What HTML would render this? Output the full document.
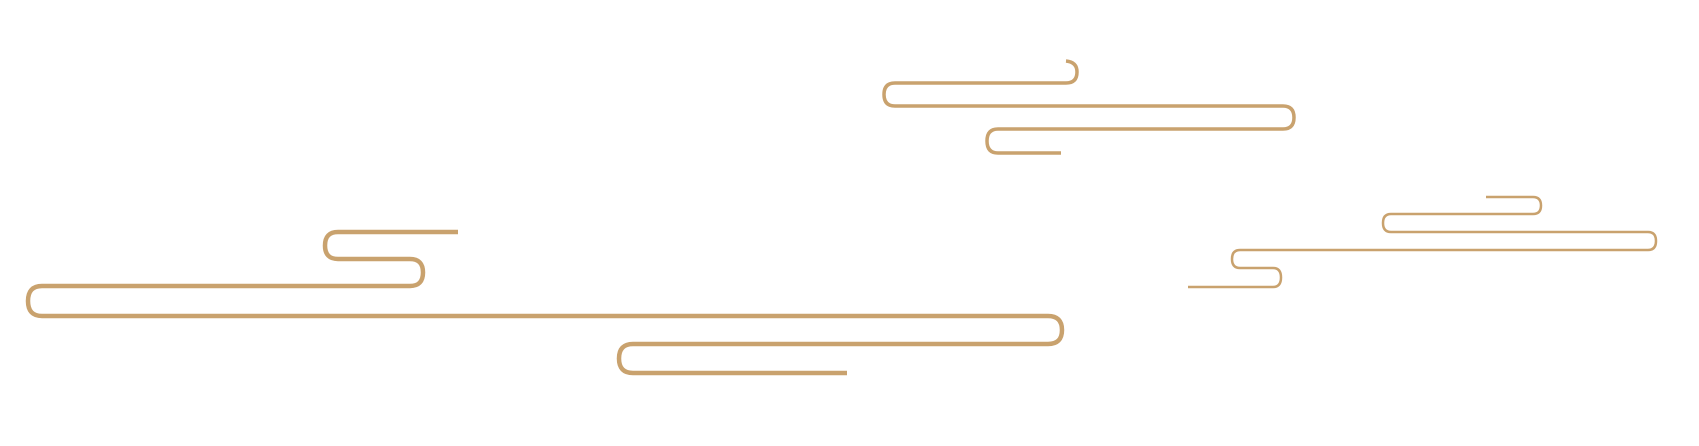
<!DOCTYPE html>
<html><head><meta charset="utf-8"><style>
html,body{margin:0;padding:0;background:#fff;width:1699px;height:446px;overflow:hidden}
svg{display:block}
</style></head><body>
<svg width="1699" height="446" viewBox="0 0 1699 446" fill="none" stroke="#c9a26e" stroke-linejoin="round">
<path stroke-width="4.5" d="M458 232 L338 232 Q325 232 325 245.5 Q325 259 338 259 L410 259 Q423 259 423 272.5 Q423 286 410 286 L42 286 Q28 286 28 301 Q28 316 42 316 L1048 316 Q1062 316 1062 330 Q1062 344 1048 344 L633 344 Q619 344 619 358.5 Q619 373 633 373 L847 373"/>
<path stroke-width="3.5" d="M1066 61 Q1077 62 1077 72 Q1077 83 1066 83 L895 83 Q884 83 884 94.5 Q884 106 895 106 L1283 106 Q1294 106 1294 117.5 Q1294 129 1283 129 L998 129 Q987 129 987 141 Q987 153 998 153 L1061 153"/>
<path stroke-width="2.5" d="M1486 197 L1533 197 Q1541 197 1541 205.5 Q1541 214 1533 214 L1391 214 Q1383 214 1383 223 Q1383 232 1391 232 L1648 232 Q1656 232 1656 241 Q1656 250 1648 250 L1240 250 Q1232 250 1232 259 Q1232 268 1240 268 L1273 268 Q1281 268 1281 277.5 Q1281 287 1273 287 L1188 287"/>
</svg>
</body></html>
